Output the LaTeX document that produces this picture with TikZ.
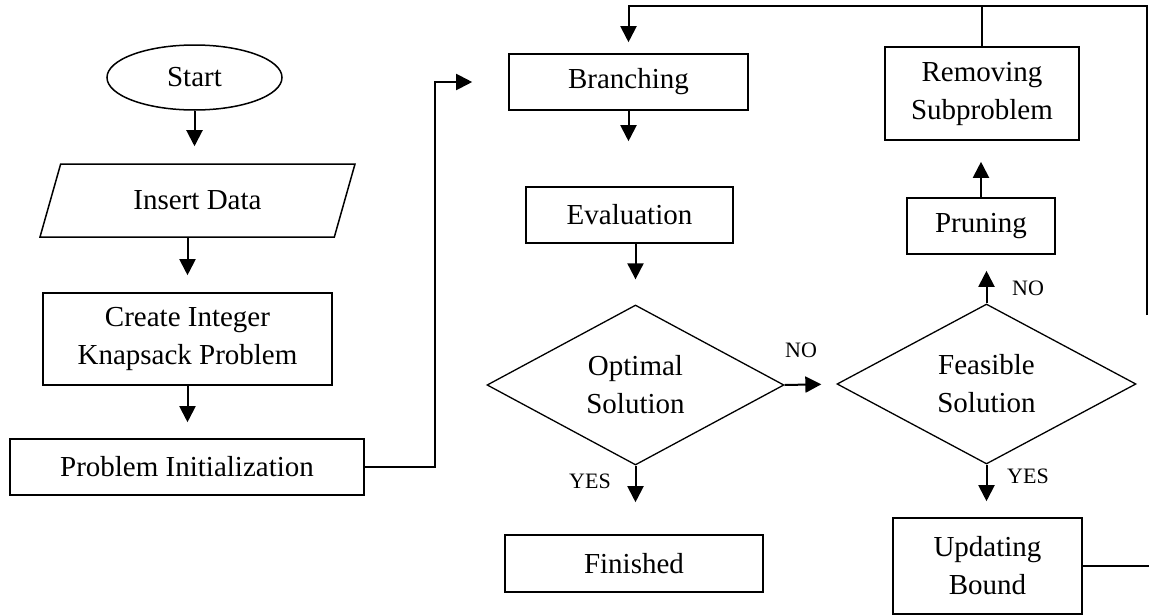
\documentclass[tikz,border=0pt]{standalone}
\usepackage{fontspec}
\setmainfont{Liberation Serif}
\usetikzlibrary{shapes.geometric,arrows.meta}

\begin{document}
\begin{tikzpicture}[
    x=1pt, y=-1pt,
    every node/.style={font=\fontsize{29}{38}\selectfont, inner sep=0pt, align=center},
    box/.style={rectangle, draw, line width=1.6pt},
    terminal/.style={ellipse, draw, line width=1.5pt, minimum width=175pt, minimum height=65pt},
    io/.style={trapezium, trapezium left angle=43, trapezium right angle=137,
        trapezium stretches body, draw, line width=1.5pt, minimum width=315pt, minimum height=73pt},
    decision/.style={diamond, draw, line width=1.3pt, aspect=1.86},
    answer/.style={font=\fontsize{22}{26}\selectfont},
    flow/.style={-{Triangle[length=16pt,width=16pt]}, line width=2pt},
    link/.style={line width=1.8pt}
]
\useasboundingbox (0,0) rectangle (1149,616);

% Left column
\node[terminal] (start) at (194.5,77.5) {Start};
\node[io] (insert) at (197.5,200.5) {Insert Data};
\node[box, minimum width=289pt, minimum height=92pt] (create) at (187.5,339) {Create Integer\\Knapsack Problem};
\node[box, minimum width=354pt, minimum height=56pt] (init) at (187,467) {Problem Initialization};

% Middle column
\node[box, minimum width=239pt, minimum height=56pt] (branch) at (628.5,82) {Branching};
\node[box, minimum width=207pt, minimum height=56pt] (eval) at (629.5,215) {Evaluation};
\node[decision, minimum width=297pt, minimum height=160pt] (optimal) at (635.5,385) {Optimal\\Solution};
\node[box, minimum width=258pt, minimum height=57pt] (finished) at (634,563.5) {Finished};

% Right column
\node[box, minimum width=194pt, minimum height=93pt] (removing) at (982,93.5) {Removing\\Subproblem};
\node[box, minimum width=148pt, minimum height=56pt] (pruning) at (981,226) {Pruning};
\node[decision, minimum width=299pt, minimum height=160pt] (feasible) at (986.5,384) {Feasible\\Solution};
\node[box, minimum width=189pt, minimum height=96pt] (updating) at (987.5,566) {Updating\\Bound};

% Answers
\node[answer] (optno) at (801,350) {NO};
\node[answer] (optyes) at (590,481) {YES};
\node[answer] (feasno) at (1028,288) {NO};
\node[answer] (feasyes) at (1028,476) {YES};

% Connections
\draw[flow, shorten >=17pt] (start.south) -- (start.south |- insert.north);
\draw[flow, shorten >=17pt] (create.north |- insert.south) -- (create.north);
\draw[flow, shorten >=16pt] (create.south) -- (create.south |- init.north);
\draw[flow, shorten >=36pt] (init.east) -- ++(70,0) |- (branch.west);
\draw[flow, shorten >=45pt] (branch.south) -- (branch.south |- eval.north);
\draw[flow, shorten >=25pt] (eval.south -| optimal.north) -- (optimal.north);
\draw[flow, shorten >=15pt] (optimal.east) -- (feasible.west);
\draw[flow, shorten >=32pt] (optimal.south) -- (optimal.south |- finished.north);
\draw[flow, shorten >=16pt] (feasible.north) -- (feasible.north |- pruning.south);
\draw[flow, shorten >=21pt] (pruning.north) -- (pruning.north |- removing.south);
\draw[flow, shorten >=16pt] (feasible.south) -- (feasible.south |- updating.north);

% Loop back to branching
\coordinate (loopcorner) at (1147,6);
\coordinate (loopend) at (1147,315);
\coordinate (boundend) at (1149,566);
\draw[flow, shorten >=11pt] (loopend) -- (loopcorner) -| (branch.north);
\draw[link] (removing.north) -- (removing.north |- loopcorner);
\draw[link] (updating.east) -- (boundend);

\end{tikzpicture}
\end{document}
